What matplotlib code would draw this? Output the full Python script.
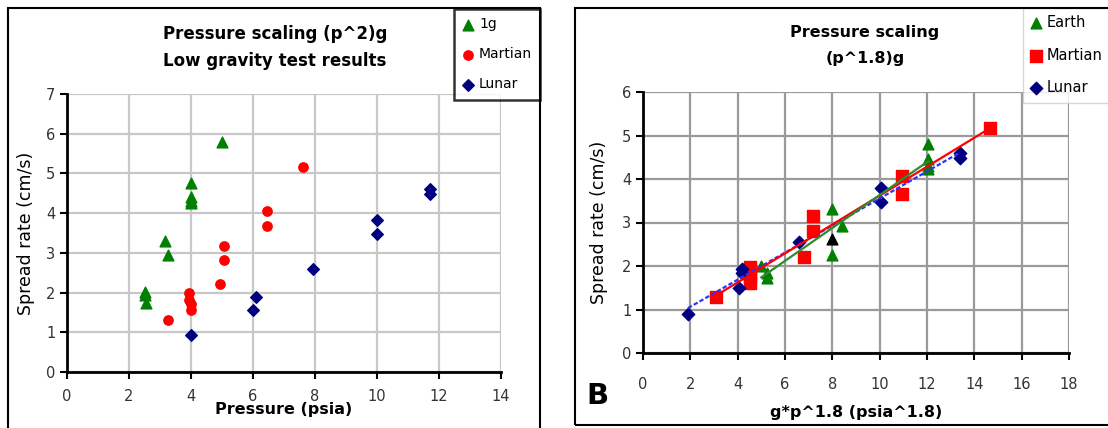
import numpy as np
import matplotlib
matplotlib.use("Agg")
import matplotlib.pyplot as plt
from matplotlib.patches import Rectangle

plt.rcParams['font.family'] = ['DejaVu Sans']

# ---------------- data: left panel (pressure vs spread rate) ----------------
g1_x = [5.0, 4.0, 4.0, 4.0, 4.0, 3.15, 3.25, 2.5, 2.5, 2.55]
g1_y = [5.8, 4.75, 4.4, 4.3, 4.25, 3.3, 2.95, 2.02, 1.95, 1.75]
mars_x = [7.6, 6.45, 6.45, 5.05, 5.05, 4.95, 3.95, 3.95, 4.0, 4.0, 3.25]
mars_y = [5.15, 4.05, 3.68, 3.18, 2.82, 2.22, 2.0, 1.82, 1.72, 1.57, 1.3]
lunar_x = [4.0, 6.1, 6.0, 7.95, 10.0, 10.0, 11.7, 11.7]
lunar_y = [0.92, 1.9, 1.55, 2.6, 3.82, 3.47, 4.62, 4.48]

# ---------------- data: right panel (g*p^1.8 vs spread rate) ----------------
earth_sx = [5.0, 5.25, 5.25, 8.0, 8.0, 8.4, 12.05, 12.05, 12.05, 12.05]
earth_sy = [2.0, 1.85, 1.72, 3.3, 2.25, 2.92, 4.8, 4.45, 4.3, 4.22]
mars_sx = [3.1, 4.5, 4.5, 4.5, 4.5, 6.8, 7.2, 7.2, 10.95, 10.95, 14.65]
mars_sy = [1.28, 1.98, 1.82, 1.72, 1.6, 2.2, 2.8, 3.15, 4.07, 3.65, 5.18]
lunar_sx = [1.9, 4.2, 4.2, 4.05, 6.6, 10.05, 10.05, 13.4, 13.4]
lunar_sy = [0.9, 1.92, 1.85, 1.5, 2.55, 3.8, 3.48, 4.6, 4.48]
extra_sx = [8.0]
extra_sy = [2.62]

left_xticks = [0, 2, 4, 6, 8, 10, 12, 14]
left_yticks = [0, 1, 2, 3, 4, 5, 6, 7]
right_xticks = [0, 2, 4, 6, 8, 10, 12, 14, 16, 18]
right_yticks = [0, 1, 2, 3, 4, 5, 6]

GREEN = '#008000'
RED = '#ff0000'
NAVY = '#000080'

W, H = 1108, 428
fig = plt.figure(figsize=(W / 100, H / 100), dpi=100)


def px_axes(x0, y0, x1, y1):
    return fig.add_axes([x0 / W, 1 - y1 / H, (x1 - x0) / W, (y1 - y0) / H])


def style_axes(ax, gridcolor, pad):
    for s in ['top', 'right']:
        ax.spines[s].set_visible(False)
    for s in ['left', 'bottom']:
        ax.spines[s].set_linewidth(2.0)
        ax.spines[s].set_color('black')
    ax.grid(True, color=gridcolor, linewidth=1.6)
    ax.set_axisbelow(True)
    ax.tick_params(direction='out', length=5, width=1.5, labelsize=10.5,
                   colors='black', labelcolor='#333333')
    ax.tick_params(axis='x', pad=pad)


# panel borders
fig.patches.append(Rectangle((8 / W, 1 - 432 / H), (540 - 8) / W, (432 - 8) / H,
                             transform=fig.transFigure, fill=False,
                             edgecolor='black', linewidth=1.5))
fig.patches.append(Rectangle((575 / W, 1 - 425 / H), (1112 - 575) / W, (425 - 8) / H,
                             transform=fig.transFigure, fill=False,
                             edgecolor='black', linewidth=1.5))

# ---------------- left panel ----------------
ax1 = px_axes(67, 94, 501, 372)
ax1.scatter(g1_x, g1_y, marker='^', s=60, color=GREEN, label='1g', zorder=3)
ax1.scatter(mars_x, mars_y, marker='o', s=45, color=RED, label='Martian', zorder=3)
ax1.scatter(lunar_x, lunar_y, marker='D', s=35, color=NAVY, label='Lunar', zorder=3)
ax1.set_xlim(0, 14)
ax1.set_ylim(0, 7)
ax1.set_xticks(left_xticks)
ax1.set_yticks(left_yticks)
style_axes(ax1, '#c8c8c8', pad=7)
ax1.set_xlabel('Pressure (psia)', fontsize=11.5, fontweight='bold', labelpad=-1)
ax1.set_ylabel('Spread rate (cm/s)', fontsize=12.5, labelpad=8)
fig.text(275 / W, 1 - 34 / H, 'Pressure scaling (p^2)g', ha='center', va='center',
         fontsize=12, fontweight='bold')
fig.text(275 / W, 1 - 61 / H, 'Low gravity test results', ha='center', va='center',
         fontsize=12, fontweight='bold')
leg1 = ax1.legend(loc='upper left', bbox_to_anchor=(454 / W, 1 - 9 / H),
                  bbox_transform=fig.transFigure, frameon=True, fancybox=False,
                  edgecolor='black', fontsize=10, labelspacing=1.15,
                  handlelength=0.8, handletextpad=0.4, borderpad=0.6,
                  borderaxespad=0, scatterpoints=1)
leg1.get_frame().set_linewidth(1.8)

# ---------------- right panel ----------------
ax2 = px_axes(643, 92, 1069, 353)
ax2.scatter(earth_sx, earth_sy, marker='^', s=60, color=GREEN, label='Earth', zorder=3)
ax2.scatter(mars_sx, mars_sy, marker='s', s=70, color=RED, label='Martian', zorder=3)
ax2.scatter(lunar_sx, lunar_sy, marker='D', s=40, color=NAVY, label='Lunar', zorder=3)
ax2.scatter(extra_sx, extra_sy, marker='^', s=60, color='black', zorder=3)

for xs, ys, c, ls in [(lunar_sx, lunar_sy, '#3030ff', (0, (2, 1))),
                      (mars_sx, mars_sy, RED, '-'),
                      (earth_sx, earth_sy, '#2e8b2e', '-')]:
    k, b = np.polyfit(xs, ys, 1)
    xx = np.array([min(xs), max(xs)])
    ax2.plot(xx, k * xx + b, color=c, linewidth=1.6, linestyle=ls, zorder=4)

ax2.set_xlim(0, 18)
ax2.set_ylim(0, 6)
ax2.set_xticks(right_xticks)
ax2.set_yticks(right_yticks)
style_axes(ax2, '#9a9a9a', pad=12)
ax2.set_xlabel('g*p^1.8 (psia^1.8)', fontsize=11.5, fontweight='bold', labelpad=10)
ax2.set_ylabel('Spread rate (cm/s)', fontsize=12.5, labelpad=10)
fig.text(865 / W, 1 - 32 / H, 'Pressure scaling', ha='center', va='center',
         fontsize=11.5, fontweight='bold')
fig.text(865 / W, 1 - 58 / H, '(p^1.8)g', ha='center', va='center',
         fontsize=11.5, fontweight='bold')
fig.text(597 / W, 1 - 396 / H, 'B', ha='center', va='center',
         fontsize=21, fontweight='bold')
leg2 = ax2.legend(loc='upper left', bbox_to_anchor=(1023 / W, 1 - 8 / H),
                  bbox_transform=fig.transFigure, frameon=True, fancybox=False,
                  edgecolor='#cccccc', fontsize=10.5, labelspacing=1.2,
                  handlelength=0.8, handletextpad=0.3, borderpad=0.5,
                  borderaxespad=0, scatterpoints=1)
leg2.get_frame().set_linewidth(1.0)

fig.savefig('out.png', dpi=100)
